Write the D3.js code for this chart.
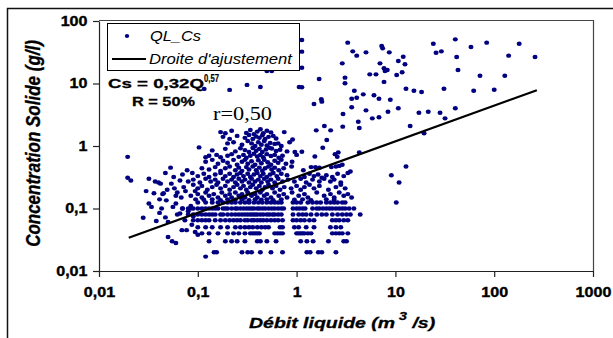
<!DOCTYPE html>
<html>
<head>
<meta charset="utf-8">
<script src="https://cdn.jsdelivr.net/npm/d3@7"></script>
<style>
  body { margin: 0; background: #fff; }
  svg { display: block; font-family: Arial, 'Liberation Sans', sans-serif; }
</style>
</head>
<body>
<script>
// Axis ticks
let ticksQ = [0.01, 0.1, 1, 10, 100, 1000];
let ticksCs = [0.01, 0.1, 1, 10, 100];

// Concentration levels that show up as horizontal streaks (g/l)
let niveauxCs = [0.02, 0.03, 0.04, 0.05, 0.065, 0.08, 0.1, 0.125];
// Flows measured on each of those levels (m3/s)
let debitsNiveaux = [
  [0.146, 0.155, 0.28, 0.32, 0.35, 0.43, 0.55, 0.72, 1.27, 1.37, 1.66, 1.8, 2.5],
  [0.13, 0.19, 0.22, 0.25, 0.3, 0.4, 0.43, 0.5, 0.62, 1.1, 1.27, 1.47, 2.1, 3.0, 3.2],
  [0.11, 0.13, 0.16, 0.2, 0.23, 0.26, 0.3, 0.34, 0.36, 0.38, 0.4, 0.42, 0.6, 0.64, 0.68, 0.72,
   1.0, 1.05, 1.1, 1.15, 1.2, 1.3, 1.4, 2.3, 2.5, 2.7, 2.9, 3.3],
  [0.1, 0.12, 0.14, 0.17, 0.2, 0.24, 0.27, 0.3, 0.33, 0.36, 0.4, 0.44, 0.48, 0.52, 0.68, 0.72,
   0.95, 1.05, 1.25, 1.5, 2.2, 2.5, 2.8],
  [0.09, 0.1, 0.11, 0.12, 0.13, 0.15, 0.17, 0.19, 0.21, 0.23, 0.25, 0.27, 0.3, 0.32, 0.35, 0.37,
   0.4, 0.43, 0.46, 0.5, 0.55, 0.6, 0.65, 0.72, 0.92, 1.0, 1.1, 1.2, 1.35, 1.5, 2.3, 2.5, 2.7, 3.0, 3.3],
  [0.08, 0.09, 0.1, 0.11, 0.12, 0.13, 0.14, 0.15, 0.17, 0.18, 0.2, 0.22, 0.24, 0.26, 0.28, 0.3,
   0.32, 0.34, 0.36, 0.38, 0.4, 0.43, 0.46, 0.5, 0.53, 0.57, 0.6, 0.65, 0.7, 0.92, 1.05, 1.15,
   1.25, 1.4, 1.6, 1.8, 2.0, 2.3, 2.6, 2.9, 3.2, 3.5, 4.4],
  [0.07, 0.08, 0.085, 0.09, 0.1, 0.11, 0.12, 0.13, 0.14, 0.15, 0.16, 0.18, 0.19, 0.2, 0.22, 0.24,
   0.25, 0.27, 0.29, 0.31, 0.33, 0.35, 0.37, 0.4, 0.42, 0.45, 0.48, 0.52, 0.56, 0.6, 0.65, 0.7,
   0.74, 0.92, 1.0, 1.07, 1.15, 1.22, 1.45, 1.6, 1.7, 1.85, 2.0, 2.15, 2.3, 2.5, 2.7, 2.9, 3.1, 3.4, 3.8],
  [0.1, 0.12, 0.14, 0.16, 0.18, 0.2, 0.22, 0.24, 0.27, 0.3, 0.33, 0.37, 0.41, 0.45, 0.5, 0.55,
   0.6, 0.65, 0.7, 0.92, 1.0, 1.1, 1.3, 1.45, 1.6, 1.75, 2.0, 2.2, 2.4, 2.6, 2.9, 3.1, 10.2]
];

// Other measurements [Q (m3/s), Cs (g/l)] : main cloud
let nuage = [
  [0.17,1.67],[0.19,1.6],[0.22,1.75],[0.31,1.62],[0.34,1.8],[0.37,1.55],[0.4,1.7],[0.43,1.85],[0.46,1.6],[0.5,1.75],[0.55,1.65],[0.75,1.67],
  [0.18,1.4],[0.21,1.3],[0.25,1.45],[0.3,1.35],[0.33,1.5],[0.36,1.3],[0.39,1.42],[0.42,1.35],[0.45,1.48],[0.48,1.3],[0.52,1.4],[0.58,1.45],[0.62,1.32],[0.91,1.27],
  [0.2,1.1],[0.23,1.15],[0.28,1.05],[0.32,1.2],[0.35,1.1],[0.38,1.0],[0.41,1.15],[0.44,1.05],[0.47,1.2],[0.5,1.02],[0.54,1.12],[0.6,1.08],[0.65,1.1],[0.7,1.0],[0.85,1.15],
  [0.103,0.95],[0.14,0.85],[0.19,0.9],[0.24,0.82],[0.27,0.92],[0.3,0.86],[0.33,0.8],[0.36,0.93],[0.39,0.84],[0.42,0.9],[0.45,0.8],[0.49,0.88],[0.53,0.94],[0.56,0.91],[0.62,0.83],[0.68,0.87],[0.8,0.82],[0.96,0.8],
  [0.12,0.66],[0.13,0.7],[0.155,0.72],[0.17,0.66],[0.2,0.7],[0.22,0.74],[0.26,0.67],[0.29,0.72],[0.31,0.65],[0.34,0.7],[0.37,0.75],[0.4,0.68],[0.43,0.72],[0.46,0.66],[0.5,0.74],[0.55,0.69],[0.6,0.72],[0.66,0.65],[0.72,0.7],[1.0,0.72],
  [0.12,0.56],[0.14,0.6],[0.16,0.52],[0.18,0.58],[0.2,0.54],[0.23,0.6],[0.25,0.5],[0.28,0.56],[0.3,0.6],[0.32,0.52],[0.35,0.57],[0.38,0.5],[0.41,0.59],[0.44,0.53],[0.47,0.6],[0.51,0.55],[0.55,0.5],[0.6,0.58],[0.65,0.54],[0.7,0.6],[0.78,0.52],[0.9,0.56],
  [0.053,0.45],[0.078,0.41],[0.11,0.44],[0.13,0.42],[0.15,0.46],[0.17,0.4],[0.19,0.44],[0.21,0.47],[0.24,0.41],[0.26,0.45],[0.28,0.4],[0.31,0.46],[0.33,0.42],[0.36,0.47],[0.39,0.41],[0.42,0.45],[0.45,0.4],[0.48,0.44],[0.52,0.47],[0.56,0.42],[0.6,0.45],[0.66,0.41],[0.74,0.44],[0.89,0.47],[1.17,0.41],[1.4,0.46],[1.55,0.46],[1.7,0.45],[2.25,0.46],[2.5,0.47],[2.7,0.48],[2.9,0.5],[3.5,0.39],
  [0.047,0.37],[0.057,0.32],[0.07,0.35],[0.088,0.37],[0.1,0.33],[0.115,0.36],[0.13,0.32],[0.15,0.35],[0.17,0.37],[0.19,0.33],[0.21,0.36],[0.23,0.32],[0.25,0.35],[0.27,0.37],[0.29,0.33],[0.32,0.36],[0.34,0.32],[0.37,0.35],[0.4,0.37],[0.43,0.33],[0.46,0.36],[0.5,0.32],[0.54,0.35],[0.58,0.37],[0.63,0.33],[0.7,0.36],[0.8,0.34],[1.2,0.32],[1.35,0.36],[1.5,0.33],[1.65,0.35],[1.8,0.31],[2.0,0.34],[2.3,0.32],[2.6,0.36],[3.0,0.33],[3.3,0.37],
  [0.0195,0.31],[0.021,0.28],[0.032,0.3],[0.037,0.27],[0.04,0.26],[0.066,0.28],[0.08,0.27],[0.09,0.29],[0.105,0.26],[0.12,0.3],[0.135,0.27],[0.15,0.29],[0.16,0.26],[0.18,0.3],[0.2,0.27],[0.22,0.29],[0.24,0.26],[0.26,0.3],[0.28,0.27],[0.3,0.29],[0.33,0.26],[0.35,0.3],[0.38,0.27],[0.41,0.29],[0.44,0.26],[0.47,0.3],[0.51,0.27],[0.55,0.29],[0.6,0.26],[0.65,0.3],[0.72,0.27],[0.82,0.29],[0.95,0.27],[1.1,0.3],[1.25,0.26],[1.45,0.29],[1.7,0.27],[1.9,0.3],[2.2,0.27],[2.4,0.29],[2.8,0.26],
  [0.042,0.25],[0.049,0.2],[0.054,0.25],[0.058,0.21],[0.072,0.22],[0.09,0.24],[0.1,0.21],[0.11,0.23],[0.125,0.2],[0.14,0.22],[0.155,0.24],[0.17,0.21],[0.19,0.23],[0.21,0.2],[0.23,0.22],[0.25,0.24],[0.27,0.21],[0.29,0.23],[0.31,0.2],[0.34,0.22],[0.36,0.24],[0.39,0.21],[0.42,0.23],[0.45,0.2],[0.48,0.22],[0.52,0.24],[0.57,0.21],[0.62,0.23],[0.68,0.2],[0.75,0.22],[0.88,0.21],[1.0,0.23],[1.1,0.2],[1.2,0.22],[1.35,0.24],[1.5,0.21],[1.7,0.23],[2.1,0.2],[2.5,0.22],[2.8,0.24],[3.1,0.21],
  [0.03,0.19],[0.036,0.175],[0.044,0.17],[0.045,0.175],[0.06,0.16],[0.062,0.18],[0.068,0.15],[0.075,0.19],[0.085,0.16],[0.094,0.19],[0.1,0.17],[0.11,0.15],[0.12,0.18],[0.13,0.16],[0.145,0.17],[0.16,0.15],[0.175,0.18],[0.19,0.16],[0.21,0.17],[0.22,0.15],[0.24,0.18],[0.26,0.16],[0.28,0.17],[0.3,0.15],[0.32,0.18],[0.35,0.16],[0.38,0.17],[0.4,0.15],[0.43,0.18],[0.47,0.16],[0.5,0.17],[0.55,0.15],[0.6,0.18],[0.66,0.16],[0.74,0.17],[0.8,0.15],[0.9,0.18],[1.05,0.16],[1.2,0.17],[1.3,0.15],[1.6,0.18],[1.9,0.16],[2.2,0.17],[2.4,0.15],[2.7,0.18],[3.0,0.16],[3.3,0.17],[3.6,0.15],
  [0.032,0.12],[0.041,0.14],[0.048,0.135],[0.095,0.14],[0.115,0.138],[0.14,0.14],[0.17,0.136],[0.2,0.14],[0.24,0.138],[0.28,0.14],[0.33,0.136],[0.38,0.14],[0.44,0.138],[0.5,0.14],[0.58,0.136],[0.7,0.14],[0.95,0.138],[1.15,0.14],[1.4,0.136],[2.0,0.14],[2.4,0.138],
  [0.0195,0.67],[0.028,0.071],[0.034,0.106],[0.038,0.063],[0.041,0.085],[0.047,0.072],[0.05,0.061],[0.056,0.106],[0.062,0.08],[0.066,0.083],[0.074,0.065],[0.069,0.045],[0.077,0.045],[0.087,0.055],[0.094,0.042],[0.05,0.035],[0.055,0.03],[0.06,0.028],[0.043,0.1],[0.07,0.1],[0.08,0.09],[0.09,0.075],[0.085,0.11],[0.06,0.12],[0.1,0.038],[0.12,0.017]
];

// Other measurements [Q, Cs] : high concentrations and high flows
let nuageHaut = [
  [0.116,8.2],[0.21,7.9],[0.315,9.5],[0.43,8.8],[1.06,8.8],[0.5,15.8],[0.56,15.8],
  [1.13,49.7],[1.13,32.3],[1.13,17.9],[1.13,8.7],
  [3.29,45],[3.7,32.7],[4.06,27.9],[5.04,31.5],[7.26,39.8],[7.43,36.6],[8.67,31.5],
  [2.9,21],[6.98,21],[7.67,17.5],[8.28,16.4],[7.85,15.8],[10.7,22.9],[12,26.8],[12.5,20.3],
  [5.5,14],[6.36,14],[10.3,13.7],[11.7,15.1],
  [24.2,43.3],[25.8,31.1],[29.2,32.7],[40.4,50.9],[41.7,26.5],[43,16.4],[58.2,38.4],[83.9,45],[140,27.9],[179,43.3],[259,26.5],[71.8,13.3],[128,13.3],
  [1.69,11.8],[3.09,12.4],[3.09,10.1],[7.67,10.6],[12.8,8.26],[15.4,7.67],[18.4,7.31],[31,8.26],[62,7.67],[100,7.96],
  [3.84,7.67],[4.73,6.71],[6.07,6.47],[6.82,5.71],[8.88,5.5],[3.61,5.71],[4.06,5.93],
  [1.78,5.59],[1.8,5.12],[1.5,4.7],[3.61,4.16],[5.04,3.72],[8.41,3.54],[10.7,4.01],[17.3,3.41],[21.5,3.54],[28.3,3.41],[40.4,4.01],[31.8,2.77],
  [2.95,3.25],[5.84,2.77],[6.82,2.88],[4.21,2.45],[4.31,1.94],[2.93,2.04],[14.1,2.09],[1.91,2.09],[1.58,1.78],[2.21,1.78],[19.5,1.6],
  [2.02,1.25],[1.13,0.81],[1.84,0.94],[1.53,0.68],[2.45,0.74],[2.58,0.67],[2.64,0.79],[4.31,0.79],
  [9.1,0.34],[10.9,0.26],[12.8,0.47]
];

// Fitted line Cs = 0,32 Q^0,57, end points read on the chart
let droiteQ = [0.02, 270];
let droiteCs = [0.034, 7.8];

let width = 613;
let height = 338;

let svg = d3.select('body')
  .append('svg')
  .attr('width', width)
  .attr('height', height);

// Outer frame (only top and left edges are in the picture)
svg.append('path')
  .attr('d', 'M7.5,338V8.5H613')
  .attr('fill', 'none')
  .attr('stroke', '#111')
  .attr('stroke-width', 1.5);

// Log scales
let x = d3.scaleLog().domain([0.01, 1000]).range([99, 593]);
let y = d3.scaleLog().domain([0.01, 100]).range([271, 21]);

let fmt = (d) => String(d).replace('.', ',');
let boldFont = 'bold 14px Arial, "Liberation Sans", sans-serif';

// Plot area border (top and right)
svg.append('path')
  .attr('d', 'M' + x(0.01) + ',' + (y(100) - 0.5) + 'H' + (x(1000) + 0.5) + 'V' + y(0.01))
  .attr('fill', 'none')
  .attr('stroke', '#444')
  .attr('stroke-width', 1.2);

// X axis
let xAxis = svg.append('g')
  .attr('transform', 'translate(0,' + y(0.01) + ')')
  .call(d3.axisBottom(x).tickValues(ticksQ).tickFormat(fmt).tickSizeInner(6).tickSizeOuter(0).tickPadding(10));

// Y axis
let yAxis = svg.append('g')
  .attr('transform', 'translate(' + x(0.01) + ',0)')
  .call(d3.axisLeft(y).tickValues(ticksCs).tickFormat(fmt).tickSizeInner(6).tickSizeOuter(0).tickPadding(4));

[xAxis, yAxis].forEach((g) => {
  g.select('.domain').attr('stroke', '#222').attr('stroke-width', 1.2);
  g.selectAll('.tick line').attr('stroke', '#222').attr('stroke-width', 1.2);
  g.selectAll('.tick text')
    .attr('fill', '#000')
    .attr('stroke', '#000')
    .attr('stroke-width', 0.35)
    .style('font', boldFont)
    .attr('transform', 'scale(1.15,1)');
});

// Points on the concentration levels
let points = [];
niveauxCs.forEach((c, i) => {
  debitsNiveaux[i].forEach((q) => points.push([q, c]));
});
points = points.concat(nuage, nuageHaut);

svg.append('g')
  .selectAll('ellipse')
  .data(points)
  .enter()
  .append('ellipse')
  .attr('cx', (d) => x(d[0]))
  .attr('cy', (d) => y(d[1]))
  .attr('rx', 2.5)
  .attr('ry', 2.2)
  .attr('fill', '#000080');

// Fitted line
let line = d3.line()
  .x((d) => x(d[0]))
  .y((d) => y(d[1]));

svg.append('path')
  .datum(d3.zip(droiteQ, droiteCs))
  .attr('d', line)
  .attr('fill', 'none')
  .attr('stroke', '#000')
  .attr('stroke-width', 2.2);

// Legend
let legend = svg.append('g');
legend.append('rect')
  .attr('x', 107.5).attr('y', 23.5)
  .attr('width', 192).attr('height', 47)
  .attr('fill', '#fff')
  .attr('stroke', '#000')
  .attr('stroke-width', 1);
legend.append('ellipse')
  .attr('cx', 127).attr('cy', 36)
  .attr('rx', 2.2).attr('ry', 1.9)
  .attr('fill', '#000080');
legend.append('text')
  .attr('x', 150).attr('y', 40.5)
  .attr('textLength', 51).attr('lengthAdjust', 'spacingAndGlyphs')
  .style('font', 'italic 14px Arial, "Liberation Sans", sans-serif')
  .text('QL_Cs');
legend.append('line')
  .attr('x1', 112).attr('x2', 146)
  .attr('y1', 59).attr('y2', 59)
  .attr('stroke', '#000')
  .attr('stroke-width', 2);
legend.append('text')
  .attr('x', 149).attr('y', 64)
  .attr('textLength', 143).attr('lengthAdjust', 'spacingAndGlyphs')
  .style('font', 'italic 14px Arial, "Liberation Sans", sans-serif')
  .text("Droite d'ajustement");

// Equation and correlation
svg.append('text')
  .attr('x', 108).attr('y', 87.5)
  .attr('textLength', 96).attr('lengthAdjust', 'spacingAndGlyphs')
  .attr('stroke', '#000').attr('stroke-width', 0.3)
  .style('font', 'bold 13px Arial, "Liberation Sans", sans-serif')
  .text('Cs = 0,32Q');
svg.append('text')
  .attr('x', 204).attr('y', 82)
  .attr('textLength', 15).attr('lengthAdjust', 'spacingAndGlyphs')
  .attr('stroke', '#000').attr('stroke-width', 0.2)
  .style('font', 'bold 10px Arial, "Liberation Sans", sans-serif')
  .text('0,57');
svg.append('text')
  .attr('x', 132).attr('y', 106)
  .attr('textLength', 63).attr('lengthAdjust', 'spacingAndGlyphs')
  .attr('stroke', '#000').attr('stroke-width', 0.3)
  .style('font', 'bold 13px Arial, "Liberation Sans", sans-serif')
  .text('R = 50%');
svg.append('text')
  .attr('x', 213).attr('y', 119.5)
  .attr('textLength', 59).attr('lengthAdjust', 'spacingAndGlyphs')
  .style('font', '19px "Liberation Serif", "Times New Roman", serif')
  .text('r=0,50');

// Axis titles
let xTitle = svg.append('text')
  .attr('transform', 'translate(249,328) scale(1.3,1)')
  .attr('stroke', '#000').attr('stroke-width', 0.3)
  .style('font', 'italic bold 15px Arial, "Liberation Sans", sans-serif');
xTitle.append('tspan').text('Débit liquide (m');
xTitle.append('tspan').attr('dy', -8).style('font-size', '11px').text(' 3');
xTitle.append('tspan').attr('dy', 8).text(' /s)');

svg.append('text')
  .attr('transform', 'translate(40,143.5) scale(1.2,1) rotate(-90)')
  .attr('text-anchor', 'middle')
  .attr('stroke', '#000').attr('stroke-width', 0.3)
  .style('font', 'italic bold 17px Arial, "Liberation Sans", sans-serif')
  .text('Concentration Solide (g/l)');
</script>
</body>
</html>
